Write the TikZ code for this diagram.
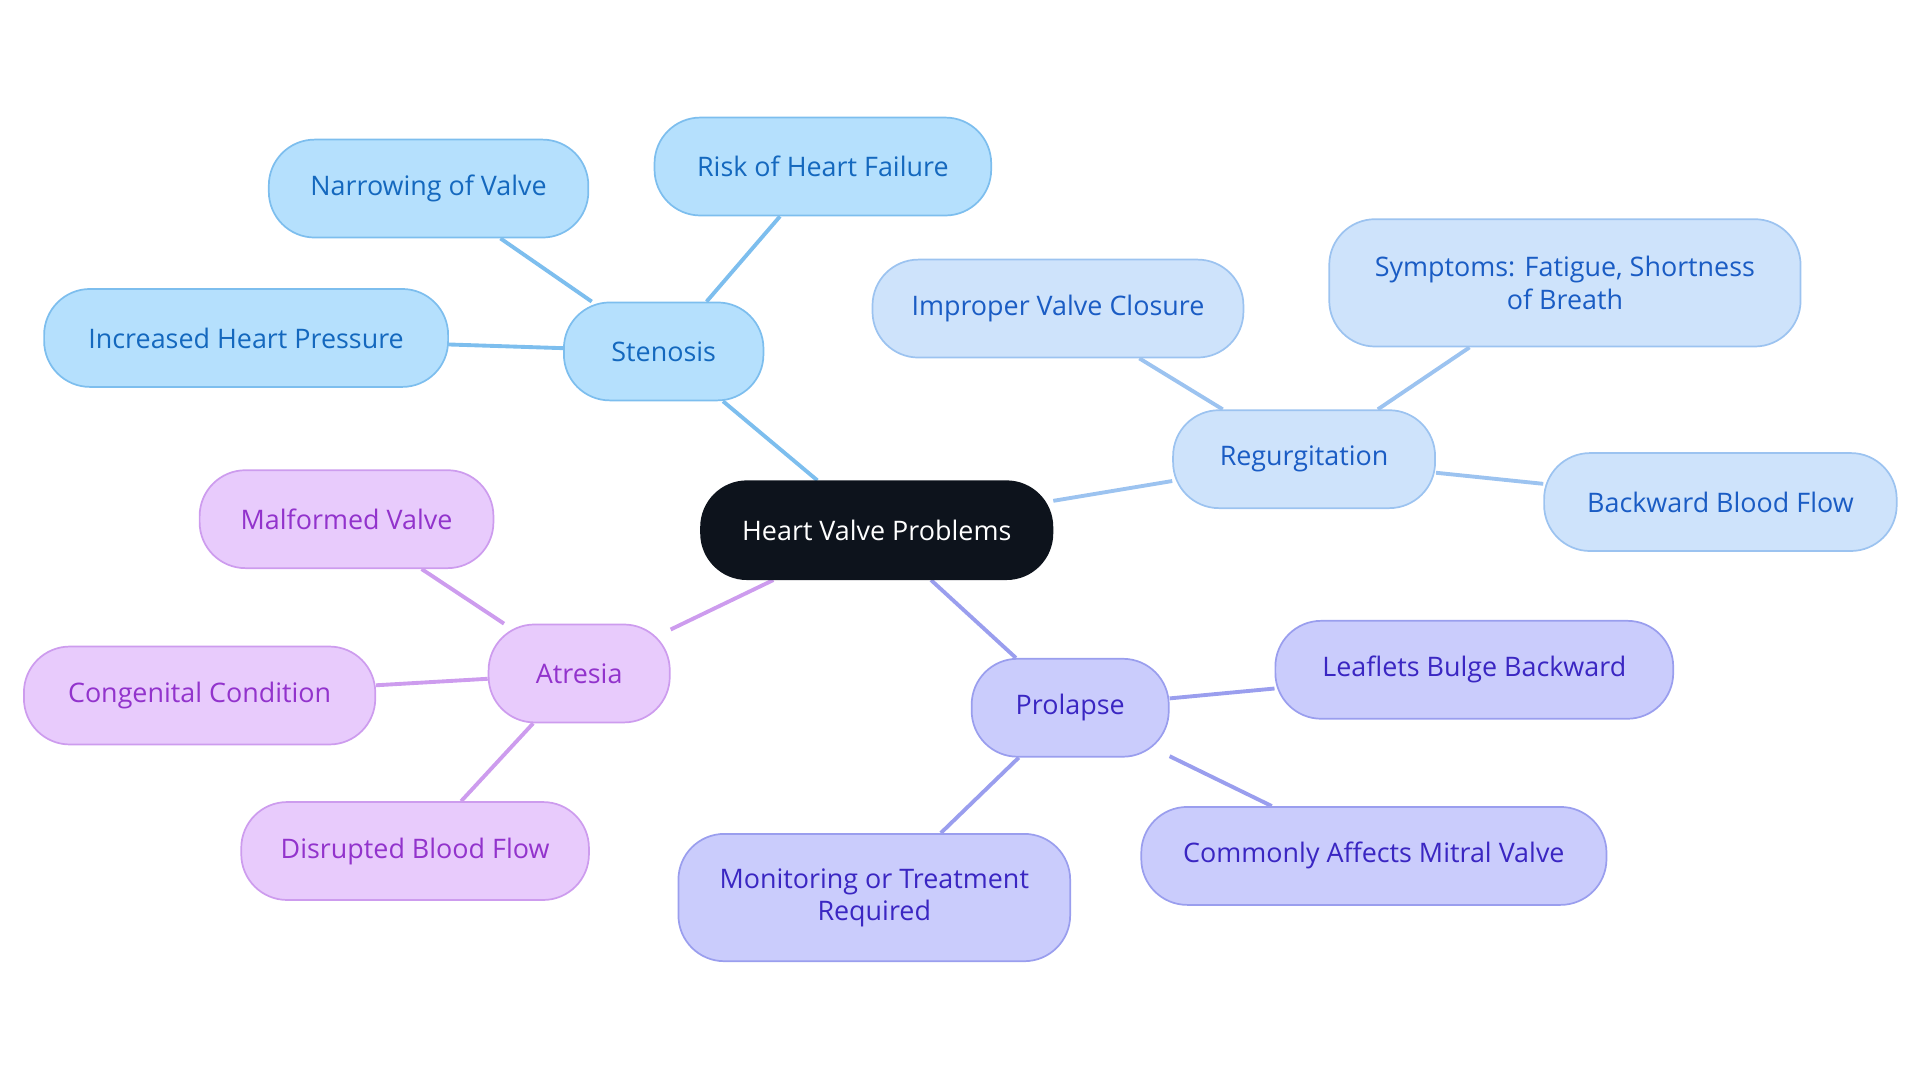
\documentclass[tikz,border=0pt]{standalone}
\usepackage{fontspec}
\setmainfont{Open Sans}
\usetikzlibrary{backgrounds}
\definecolor{sF}{HTML}{B5E0FD}\definecolor{sD}{HTML}{7DBEEE}\definecolor{sT}{HTML}{1468BE}
\definecolor{rF}{HTML}{CEE3FB}\definecolor{rD}{HTML}{9CC3F0}\definecolor{rT}{HTML}{1A5CC4}
\definecolor{pF}{HTML}{CACCFC}\definecolor{pD}{HTML}{9A9EEE}\definecolor{pT}{HTML}{3A26C2}
\definecolor{aF}{HTML}{E8CBFC}\definecolor{aD}{HTML}{CD9CEE}\definecolor{aT}{HTML}{9233CC}
\definecolor{cF}{HTML}{0D131C}
\tikzset{
 box/.style={rounded corners=0.75cm, minimum height=1.6cm, line width=0.8pt, align=center, inner sep=0pt, font=\fontsize{12.5}{15}\selectfont},
 st/.style={box, fill=sF, draw=sD, text=sT},
 rg/.style={box, fill=rF, draw=rD, text=rT},
 pr/.style={box, fill=pF, draw=pD, text=pT},
 atr/.style={box, fill=aF, draw=aD, text=aT},
 ls/.style={draw=sD, line width=1.8pt},
 lr/.style={draw=rD, line width=1.8pt},
 lp/.style={draw=pD, line width=1.8pt},
 la/.style={draw=aD, line width=1.8pt},
}
\begin{document}
\begin{tikzpicture}[x=0.02cm,y=-0.02cm]
\useasboundingbox (0,0) rectangle (1568,884);
\node[box, fill=cF, draw=cF, text=white, minimum width=5.74cm] (c) at (716,433) {Heart Valve Problems};
\node[st, minimum width=3.26cm] (s) at (542,287) {Stenosis};
\node[st, minimum width=5.22cm] (s1) at (350,154) {Narrowing of Valve};
\node[st, minimum width=5.5cm] (s2) at (672,136) {Risk of Heart Failure};
\node[st, minimum width=6.6cm] (s3) at (201,276) {Increased Heart Pressure};
\node[rg, minimum width=4.28cm] (r) at (1065,375) {Regurgitation};
\node[rg, minimum width=6.06cm] (r1) at (864,252) {Improper Valve Closure};
\node[rg, minimum width=7.7cm, minimum height=2.08cm] (r2) at (1278,231) {Symptoms: Fatigue, Shortness\\of Breath};
\node[rg, minimum width=5.76cm] (r3) at (1405,410) {Backward Blood Flow};
\node[pr, minimum width=3.22cm] (p) at (874,578) {Prolapse};
\node[pr, minimum width=6.5cm] (p1) at (1204,547) {Leaflets Bulge Backward};
\node[pr, minimum width=7.6cm] (p2) at (1122,699) {Commonly Affects Mitral Valve};
\node[pr, minimum width=6.4cm, minimum height=2.08cm] (p3) at (714,733) {Monitoring or Treatment\\Required};
\node[atr, minimum width=2.96cm] (a) at (473,550) {Atresia};
\node[atr, minimum width=4.8cm] (a1) at (283,424) {Malformed Valve};
\node[atr, minimum width=5.74cm] (a2) at (163,568) {Congenital Condition};
\node[atr, minimum width=5.68cm] (a3) at (339,695) {Disrupted Blood Flow};
\begin{scope}[on background layer]
\draw[ls] (c) -- (s); \draw[ls] (s) -- (s1); \draw[ls] (s) -- (s2); \draw[ls] (s) -- (s3);
\draw[lr] (c) -- (r); \draw[lr] (r) -- (r1); \draw[lr] (r) -- (r2); \draw[lr] (r) -- (r3);
\draw[lp] (c) -- (p); \draw[lp] (p) -- (p1); \draw[lp] (p) -- (p2); \draw[lp] (p) -- (p3);
\draw[la] (c) -- (a); \draw[la] (a) -- (a1); \draw[la] (a) -- (a2); \draw[la] (a) -- (a3);
\end{scope}
\end{tikzpicture}
\end{document}
